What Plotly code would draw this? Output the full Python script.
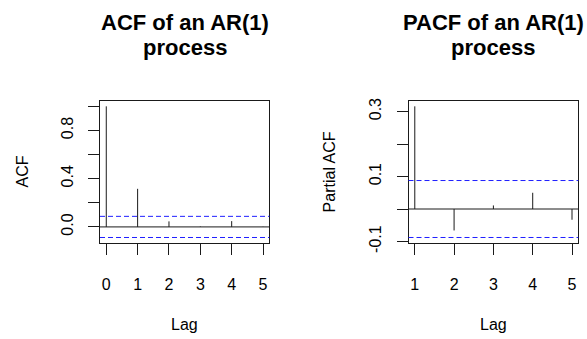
import plotly.graph_objects as go

# Sample autocorrelations of a simulated AR(1) series (n = 500)
acf_lags = [0, 1, 2, 3, 4, 5]
acf_vals = [1.0, 0.316, 0.046, 0.004, 0.048, 0.002]

pacf_lags = [1, 2, 3, 4, 5]
pacf_vals = [0.316, -0.066, 0.011, 0.050, -0.033]

n_obs = 500
conf_bound = 1.96 / n_obs ** 0.5

acf_ytick_vals = [0.0, 0.2, 0.4, 0.6, 0.8, 1.0]
acf_ytick_text = ["0.0", "", "0.4", "", "0.8", ""]
pacf_ytick_vals = [-0.1, 0.0, 0.1, 0.2, 0.3]
pacf_ytick_text = ["-0.1", "", "0.1", "", "0.3"]

title_lines = [["ACF of an AR(1)", "process"], ["PACF of an AR(1)", "process"]]
ylabels = ["ACF", "Partial ACF"]
xlabel = "Lag"

W, H = 587, 339
FONT = "Liberation Sans, Arial, Helvetica, sans-serif"
INK = "#1a1a1a"
CI_BLUE = "#1f1fff"


def padded(lo, hi, frac=0.04):
    span = hi - lo
    return [lo - frac * span, hi + frac * span]


def stems(lags, vals):
    xs, ys = [], []
    for k, v in zip(lags, vals):
        xs += [k, k, None]
        ys += [0, v, None]
    return xs, ys


fig = go.Figure()

panels = [
    dict(lags=acf_lags, vals=acf_vals, xa="x", ya="y",
         xdom=[100 / W, 269.3 / W], tv=acf_ytick_vals, tt=acf_ytick_text),
    dict(lags=pacf_lags, vals=pacf_vals, xa="x2", ya="y2",
         xdom=[408.5 / W, 578.3 / W], tv=pacf_ytick_vals, tt=pacf_ytick_text),
]
ydom = [(H - 249.3) / H, (H - 102) / H]

for i, p in enumerate(panels):
    sx, sy = stems(p["lags"], p["vals"])
    fig.add_trace(go.Scatter(x=sx, y=sy, mode="lines", xaxis=p["xa"], yaxis=p["ya"],
                             line=dict(color=INK, width=1), hoverinfo="skip",
                             showlegend=False))
    xr = padded(min(p["lags"]), max(p["lags"]))
    ylo = min(min(p["vals"]), -conf_bound)
    yhi = max(max(p["vals"]), conf_bound)
    yr = padded(ylo, yhi)
    axis_common = dict(showgrid=False, zeroline=False, showline=True, mirror=True,
                       linecolor=INK, linewidth=1, ticks="outside", ticklen=11,
                       tickcolor=INK, tickwidth=1,
                       tickfont=dict(family=FONT, size=16, color="black"))
    sfx = "" if i == 0 else "2"
    fig.layout["xaxis" + sfx] = dict(domain=p["xdom"], range=xr, anchor="y" + sfx,
                                     tickvals=p["lags"], ticklabelstandoff=16,
                                     **axis_common)
    fig.layout["yaxis" + sfx] = dict(domain=ydom, range=yr, anchor="x" + sfx,
                                     tickvals=p["tv"], ticktext=p["tt"], tickangle=-90,
                                     ticklabelstandoff=9, **axis_common)
    # zero line across the plot region
    fig.add_shape(type="line", xref=p["xa"] + " domain", yref=p["ya"],
                  x0=0, x1=1, y0=0, y1=0, line=dict(color=INK, width=1))
    # confidence bounds
    for b in (conf_bound, -conf_bound):
        fig.add_shape(type="line", xref=p["xa"] + " domain", yref=p["ya"],
                      x0=0, x1=1, y0=b, y1=b,
                      line=dict(color=CI_BLUE, width=1, dash="5px,3px"))

    cx = (p["xdom"][0] + p["xdom"][1]) / 2
    for line_text, ty in zip(title_lines[i], (20.5, 46.5)):
        fig.add_annotation(text="<b>" + line_text + "</b>", xref="paper", yref="paper",
                           x=cx, y=1 - ty / H, showarrow=False, xanchor="center",
                           yanchor="middle",
                           font=dict(family=FONT, size=22, color="black"))
    fig.add_annotation(text=xlabel, xref="paper", yref="paper", x=cx, y=1 - 334 / H,
                       showarrow=False, xanchor="center", yanchor="middle",
                       font=dict(family=FONT, size=16, color="black"))
    ylx = [22.5, 329.5][i]
    fig.add_annotation(text=ylabels[i], xref="paper", yref="paper", x=ylx / W,
                       y=(ydom[0] + ydom[1]) / 2, textangle=-90, showarrow=False,
                       xanchor="center", yanchor="middle",
                       font=dict(family=FONT, size=16, color="black"))

fig.update_layout(width=W, height=H, margin=dict(l=0, r=0, t=0, b=0),
                  paper_bgcolor="white", plot_bgcolor="white")

fig.write_html("out.html")
